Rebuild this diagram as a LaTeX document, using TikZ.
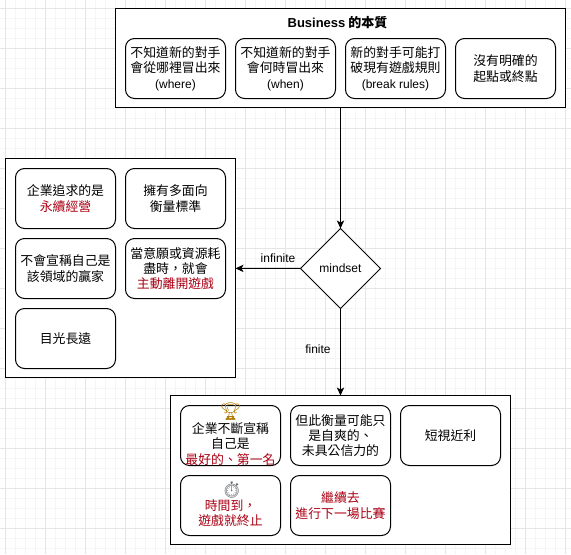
\documentclass[tikz,border=0pt]{standalone}
\usepackage{fontspec}
\usepackage{xcolor}
\usetikzlibrary{shapes.geometric,arrows.meta,positioning}
\setmainfont{Noto Sans CJK TC}
\newfontfamily\latinfont{Liberation Sans}
\newfontfamily\emojifont{Noto Emoji}
\newcommand{\lat}[1]{{\latinfont\fontsize{9}{11.5}\selectfont #1}}
\newcommand{\hot}[1]{\textcolor{AlertRed}{#1}}
\definecolor{AlertRed}{RGB}{170,0,20}
\definecolor{TrophyGold}{RGB}{180,125,10}
\definecolor{WatchGray}{RGB}{105,110,115}
\definecolor{GridMajor}{RGB}{229,229,229}
\definecolor{GridMinor}{RGB}{245,245,245}
\tikzset{
  outerbox/.style={draw=black,fill=white,anchor=north west,outer sep=0pt,line width=0.75pt},
  infobox/.style={draw=black,fill=white,rounded corners=6.75pt,outer sep=0pt,
                  minimum width=75pt,minimum height=45pt,inner sep=0pt,
                  font=\fontsize{9.65}{11.5}\selectfont,align=center,line width=0.75pt},
  lowbox/.style={infobox,execute at begin node={\rule{0pt}{11.5pt}}},
  boxtext/.style={font=\fontsize{9.65}{11.5}\selectfont,align=center,inner sep=0pt},
  decision/.style={draw=black,fill=white,diamond,aspect=1,outer sep=0pt,inner sep=0pt,
                   minimum width=60pt,minimum height=60pt,line width=0.75pt},
  edgetext/.style={font=\latinfont\fontsize{9}{11}\selectfont,inner sep=0pt},
  arr/.style={-{Stealth[length=6pt,width=5.5pt,inset=1.5pt]},black,line width=0.75pt},
}
\begin{document}
\begin{tikzpicture}[x=0.75pt,y=-0.75pt,node distance=7.5pt]
  \useasboundingbox (0,0) rectangle (571,554);
  % grid
  \foreach \gx in {0,...,56} \draw[GridMinor,line width=0.75pt] (5.5+10*\gx,0) -- (5.5+10*\gx,554);
  \foreach \gy in {0,...,55} \draw[GridMinor,line width=0.75pt] (0,-1.5+10*\gy) -- (571,-1.5+10*\gy);
  \foreach \gx in {0,...,14} \draw[GridMajor,line width=0.75pt] (5.5+40*\gx,0) -- (5.5+40*\gx,554);
  \foreach \gy in {0,...,13} \draw[GridMajor,line width=0.75pt] (0,8.5+40*\gy) -- (571,8.5+40*\gy);

  \node[outerbox,minimum width=337.5pt,minimum height=74.6pt] (business) at (115.5,8.5) {};
  \node[outerbox,minimum width=172.5pt,minimum height=164.6pt] (infinitebox) at (5.5,158.5) {};
  \node[outerbox,minimum width=255pt,minimum height=112pt] (finitebox) at (170.5,395.5) {};

  % top
  \node[font=\bfseries\fontsize{9.75}{11.5}\selectfont,inner sep=0pt] (title) at (337.5,23) {{\latinfont\bfseries Business} 的本質};
  \node[lowbox,anchor=north west] (where) at (125.5,38.5) {不知道新的對手\\會從哪裡冒出來\\\lat{(where)}};
  \node[lowbox,right=of where] (when) {不知道新的對手\\會何時冒出來\\\lat{(when)}};
  \node[lowbox,right=of when] (rules) {新的對手可能打\\破現有遊戲規則\\\lat{(break rules)}};
  \node[lowbox,right=of rules] (noend) {沒有明確的\\起點或終點};

  % left
  \node[lowbox,anchor=north west] (lasting) at (15.5,168.5) {企業追求的是\\\hot{永續經營}};
  \node[lowbox,right=of lasting] (metrics) {擁有多面向\\衡量標準};
  \node[lowbox,below=of lasting] (nowinner) {不會宣稱自己是\\該領域的贏家};
  \node[infobox,right=of nowinner] (leave) {當意願或資源耗\\盡時，就會\\\hot{主動離開遊戲}};
  \node[infobox,below=of nowinner] (longterm) {目光長遠};

  % bottom
  \node[infobox,anchor=north west] (best) at (180.5,405.5) {};
  \node[boxtext] (besttext) at ([yshift=-6.4pt]best.center) {企業不斷宣稱\\自己是\\\hot{最好的、第一名}};
  \node[inner sep=0pt,font=\emojifont\fontsize{13}{13}\selectfont,text=TrophyGold] (trophy) at ([yshift=17.6pt]best.center) {🏆};
  \node[infobox,right=of best] (selfmade) {但此衡量可能只\\是自爽的、\\未具公信力的};
  \node[infobox,right=of selfmade] (shortterm) {短視近利};
  \node[infobox,below=of best] (timeup) {};
  \node[boxtext] (timeuptext) at ([yshift=-5.6pt]timeup.center) {\hot{時間到，}\\\hot{遊戲就終止}};
  \node[inner sep=0pt,font=\emojifont\fontsize{12}{12}\selectfont,text=WatchGray] (watch) at ([xshift=1pt,yshift=11.6pt]timeup.center) {⏱};
  \node[lowbox,right=of timeup] (nextgame) {\hot{繼續去}\\\hot{進行下一場比賽}};

  \node[decision] (mindset) at (340.5,268.5) {\lat{mindset}};
  \draw[arr] (business) -- (mindset);
  \draw[arr] (mindset) -- (infinitebox) node[midway,above=4pt,xshift=7.5pt,edgetext]{infinite};
  \draw[arr] (mindset) -- (finitebox) node[midway,left=7pt,yshift=2pt,edgetext]{finite};
\end{tikzpicture}
\end{document}
